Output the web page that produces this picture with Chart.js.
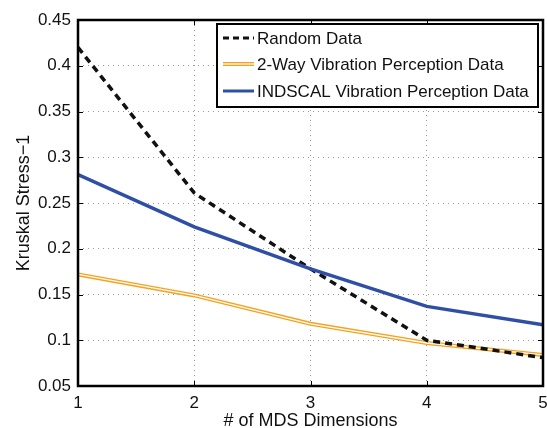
<!DOCTYPE html>
<html>
<head>
<meta charset="utf-8">
<script src="https://cdn.jsdelivr.net/npm/chart.js@4.4.1/dist/chart.umd.min.js"></script>
<style>
  html, body { margin: 0; padding: 0; background: #fff; }
  #wrap { width: 547px; height: 428px; }
</style>
</head>
<body>
<div id="wrap"><canvas id="stressChart" width="547" height="428"></canvas></div>
<script>
// data
const dims = [1, 2, 3, 4, 5];
const randomData = [0.420, 0.261, 0.178, 0.100, 0.081];
const twoWayData = [0.172, 0.149, 0.118, 0.097, 0.084];
const indscalData = [0.281, 0.224, 0.178, 0.137, 0.117];
const yTicks = [0.05, 0.1, 0.15, 0.2, 0.25, 0.3, 0.35, 0.4, 0.45];
const legendLabels = ['Random Data', '2-Way Vibration Perception Data', 'INDSCAL Vibration Perception Data'];

const FONT = '"Liberation Sans", Arial, sans-serif';
const BLUE = '#2f4ea6';
const ORANGE = '#f7a11c';

const toPoints = arr => arr.map((v, i) => ({ x: dims[i], y: v }));

// frame, inward ticks and legend box (matlab look)
const matlabPlugin = {
    id: 'matlabLook',
    afterDraw(chart) {
        const ctx = chart.ctx;
        const a = chart.chartArea;
        const xs = chart.scales.x, ys = chart.scales.y;
        ctx.save();
        // tick marks
        ctx.strokeStyle = '#000';
        ctx.lineWidth = 1;
        ctx.beginPath();
        dims.forEach(d => {
            const px = Math.round(xs.getPixelForValue(d)) + 0.5;
            ctx.moveTo(px, a.bottom); ctx.lineTo(px, a.bottom - 5);
            ctx.moveTo(px, a.top); ctx.lineTo(px, a.top + 5);
        });
        yTicks.forEach(t => {
            const py = Math.round(ys.getPixelForValue(t)) + 0.5;
            ctx.moveTo(a.left, py); ctx.lineTo(a.left + 5, py);
            ctx.moveTo(a.right, py); ctx.lineTo(a.right - 5, py);
        });
        ctx.stroke();
        // frame
        ctx.lineWidth = 2.5;
        ctx.strokeRect(a.left, a.top, a.right - a.left, a.bottom - a.top);

        // legend
        const bx = 217, by = 24, bw = 321, bh = 83;
        ctx.fillStyle = '#fff';
        ctx.fillRect(bx, by, bw, bh);
        ctx.lineWidth = 2;
        ctx.strokeStyle = '#000';
        ctx.strokeRect(bx, by, bw, bh);
        const rows = [38, 64, 91];
        ctx.font = '17px ' + FONT;
        ctx.textBaseline = 'middle';
        rows.forEach((ry, i) => {
            const x0 = bx + 6, x1 = bx + 37;
            ctx.beginPath();
            ctx.moveTo(x0, ry); ctx.lineTo(x1, ry);
            if (i === 0) {
                ctx.setLineDash([6, 4]);
                ctx.strokeStyle = '#111';
                ctx.lineWidth = 3;
                ctx.stroke();
                ctx.setLineDash([]);
            } else if (i === 1) {
                ctx.strokeStyle = ORANGE;
                ctx.lineWidth = 4;
                ctx.stroke();
                ctx.strokeStyle = '#fff';
                ctx.lineWidth = 1.3;
                ctx.stroke();
            } else {
                ctx.strokeStyle = BLUE;
                ctx.lineWidth = 3;
                ctx.stroke();
            }
            ctx.fillStyle = '#111';
            ctx.fillText(legendLabels[i], bx + 40, ry + 1);
        });
        ctx.restore();
    }
};

let stressChart = new Chart(document.getElementById('stressChart'), {
    type: 'line',
    data: {
        datasets: [
            {
                label: legendLabels[2],
                data: toPoints(indscalData),
                borderColor: BLUE,
                borderWidth: 3.5,
                order: 0
            },
            {
                label: legendLabels[0],
                data: toPoints(randomData),
                borderColor: '#111',
                borderWidth: 3.5,
                borderDash: [7, 5],
                order: 1
            },
            {
                label: 'twoWayInner',
                data: toPoints(twoWayData),
                borderColor: '#fff',
                borderWidth: 1.3,
                order: 2
            },
            {
                label: legendLabels[1],
                data: toPoints(twoWayData),
                borderColor: ORANGE,
                borderWidth: 4,
                order: 3
            }
        ]
    },
    options: {
        responsive: false,
        animation: false,
        layout: { padding: { top: 20, right: 4, left: 0, bottom: 0 } },
        elements: {
            point: { radius: 0 },
            line: { tension: 0, fill: false }
        },
        plugins: {
            legend: { display: false },
            tooltip: { enabled: false }
        },
        scales: {
            x: {
                type: 'linear',
                min: 1,
                max: 5,
                afterFit: s => { s.height = 42; s.paddingRight = 0; s.paddingLeft = 0; },
                afterBuildTicks: s => { s.ticks = dims.map(v => ({ value: v })); },
                ticks: {
                    color: '#111',
                    font: { family: FONT, size: 17 },
                    padding: 7,
                    maxRotation: 0
                },
                grid: { color: '#999', lineWidth: 1, drawTicks: false },
                border: { display: false, dash: [1, 4] },
                title: {
                    display: true,
                    text: '# of MDS Dimensions',
                    color: '#111',
                    font: { family: FONT, size: 18 },
                    padding: { top: 0, bottom: -4 }
                }
            },
            y: {
                type: 'linear',
                min: 0.05,
                max: 0.45,
                afterFit: s => { s.width = 78; },
                afterBuildTicks: s => { s.ticks = yTicks.map(v => ({ value: v })); },
                ticks: {
                    color: '#111',
                    font: { family: FONT, size: 17 },
                    padding: 7,
                    callback: v => parseFloat(v.toFixed(2)).toString()
                },
                grid: { color: '#999', lineWidth: 1, drawTicks: false },
                border: { display: false, dash: [1, 4] },
                title: {
                    display: true,
                    text: 'Kruskal Stress\u22121',
                    color: '#111',
                    font: { family: FONT, size: 18 },
                    padding: { top: 13, bottom: 0 }
                }
            }
        }
    },
    plugins: [matlabPlugin]
});
</script>
</body>
</html>
